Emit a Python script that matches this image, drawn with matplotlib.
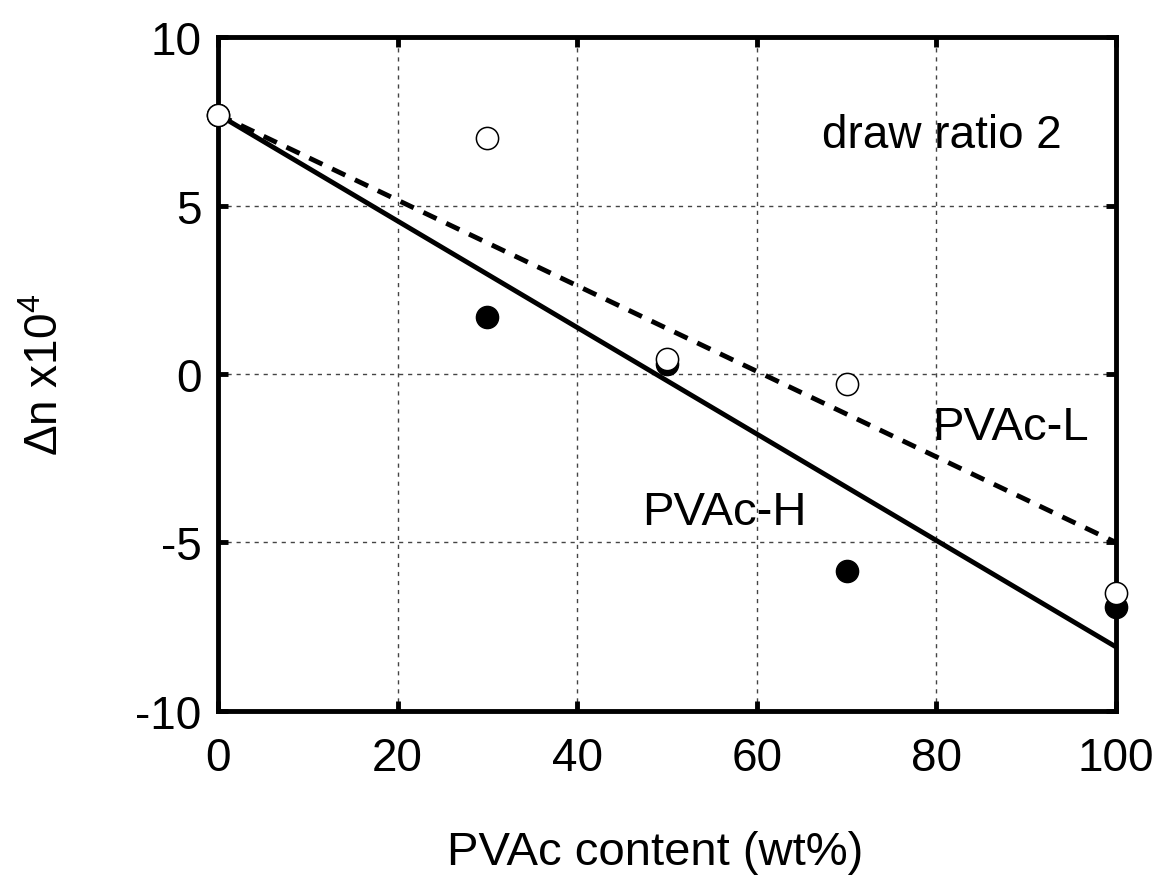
import matplotlib
matplotlib.use("Agg")
import matplotlib.pyplot as plt

plt.rcParams['font.family'] = ['Liberation Sans', 'DejaVu Sans']
plt.rcParams['mathtext.fontset'] = 'custom'
plt.rcParams['mathtext.rm'] = 'Liberation Sans'
plt.rcParams['mathtext.it'] = 'Liberation Sans'
plt.rcParams['axes.unicode_minus'] = False

# Data
content = [0, 30, 50, 70, 100]
dn_H = [7.7, 1.7, 0.3, -5.85, -6.9]   # filled circles (PVAc-H)
dn_L = [7.7, 7.0, 0.45, -0.3, -6.5]   # open circles (PVAc-L)
fit_x = [0, 100]
fit_H = [7.7, -8.1]
fit_L = [7.7, -5.0]
xticks = [0, 20, 40, 60, 80, 100]
yticks = [-10, -5, 0, 5, 10]

fig = plt.figure(figsize=(11.59, 8.78), dpi=100)
ax = fig.add_axes([0.1881, 0.1891, 0.9629 - 0.1881, 0.9567 - 0.1891])

ax.grid(True, color='#444444', linestyle=(0, (3, 3.5)), linewidth=1.0)
ax.set_axisbelow(True)

ax.plot(fit_x, fit_H, color='black', linewidth=3.5, solid_capstyle='butt', zorder=3)
ax.plot(fit_x, fit_L, color='black', linewidth=3.5, linestyle=(0, (3, 2.2)), zorder=3)

ax.plot(content, dn_H, 'o', color='black', markersize=16, zorder=4, clip_on=False)
ax.plot(content, dn_L, 'o', markerfacecolor='white', markeredgecolor='black',
        markeredgewidth=1.1, markersize=16, zorder=5, clip_on=False)

ax.set_xlim(0, 100)
ax.set_ylim(-10, 10)
ax.set_xticks(xticks)
ax.set_yticks(yticks)

for s in ax.spines.values():
    s.set_linewidth(3.5)

ax.tick_params(direction='in', length=7, width=3.5, top=True, right=True,
               labelsize=33)
ax.tick_params(axis='x', pad=18)
ax.tick_params(axis='y', pad=12)

ax.set_xlabel('PVAc content (wt%)', fontsize=34)
ax.xaxis.set_label_coords(0.487, -0.177)
ax.set_ylabel(r'$\Delta$n x10$^4$', fontsize=33, labelpad=48)

ax.text(67.3, 7.1, 'draw ratio 2', fontsize=33, va='center', ha='left')
ax.text(79.5, -1.56, 'PVAc-L', fontsize=34, va='center', ha='left')
ax.text(47.2, -4.1, 'PVAc-H', fontsize=34, va='center', ha='left')

fig.savefig('out.png', dpi=100)
